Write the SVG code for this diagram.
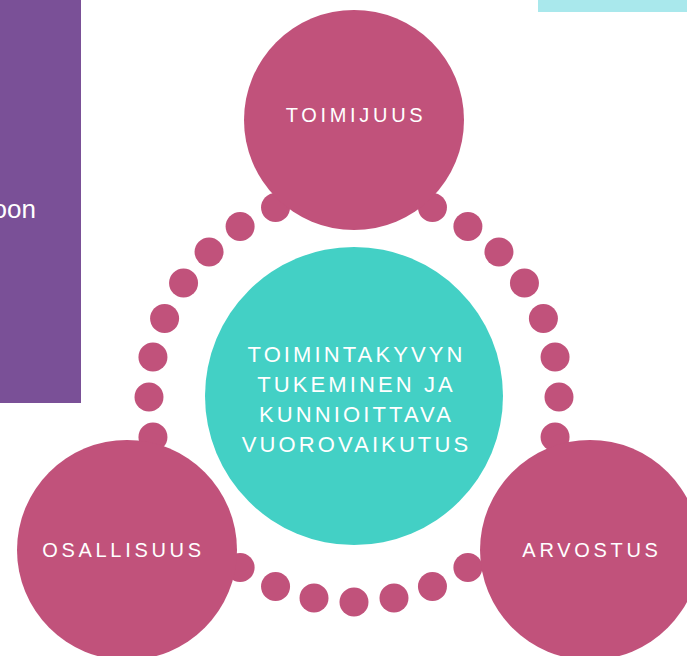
<svg xmlns="http://www.w3.org/2000/svg" width="687" height="656" viewBox="0 0 687 656">
<style>
.mag{fill:#C1527B}
.dot{fill:#C1527B}
.lbl{font-family:"Liberation Sans",Arial,sans-serif;fill:#FFFFFF;text-anchor:middle}
.l20{font-size:20px;letter-spacing:3.7px}
.l22{font-size:22px;letter-spacing:3.1px}
</style>
<rect width="687" height="656" fill="#FFFFFF"/>
<g id="side-panel">
<rect x="0" y="0" width="81" height="403" fill="#7A5097"/>
<text x="36" y="218" font-family="'Liberation Sans',Arial,sans-serif" font-size="26" fill="#FFFFFF" text-anchor="end">oon</text>
</g>
<rect id="top-bar" x="538" y="0" width="149" height="12" fill="#A9E8EC"/>
<g id="connectors">
<circle class="dot" cx="559" cy="397" r="14.5"/>
<circle class="dot" cx="555.06" cy="436.99" r="14.5"/>
<circle class="dot" cx="555.06" cy="357.01" r="14.5"/>
<circle class="dot" cx="543.4" cy="318.55" r="14.5"/>
<circle class="dot" cx="524.45" cy="283.11" r="14.5"/>
<circle class="dot" cx="498.96" cy="252.04" r="14.5"/>
<circle class="dot" cx="467.89" cy="226.55" r="14.5"/>
<circle class="dot" cx="432.45" cy="207.6" r="14.5"/>
<circle class="dot" cx="275.55" cy="207.6" r="14.5"/>
<circle class="dot" cx="240.11" cy="226.55" r="14.5"/>
<circle class="dot" cx="209.04" cy="252.04" r="14.5"/>
<circle class="dot" cx="183.55" cy="283.11" r="14.5"/>
<circle class="dot" cx="164.6" cy="318.55" r="14.5"/>
<circle class="dot" cx="152.94" cy="357.01" r="14.5"/>
<circle class="dot" cx="149" cy="397" r="14.5"/>
<circle class="dot" cx="152.94" cy="436.99" r="14.5"/>
<circle class="dot" cx="240.11" cy="567.45" r="14.5"/>
<circle class="dot" cx="275.55" cy="586.4" r="14.5"/>
<circle class="dot" cx="314.01" cy="598.06" r="14.5"/>
<circle class="dot" cx="354" cy="602" r="14.5"/>
<circle class="dot" cx="393.99" cy="598.06" r="14.5"/>
<circle class="dot" cx="432.45" cy="586.4" r="14.5"/>
<circle class="dot" cx="467.89" cy="567.45" r="14.5"/>
</g>
<g id="toimijuus">
<circle class="mag" cx="354" cy="120" r="110"/>
<text class="lbl l20" x="356" y="122">TOIMIJUUS</text>
</g>
<g id="center">
<circle cx="354" cy="396" r="149" fill="#43D0C5"/>
<text class="lbl l22" x="356.5" y="362">TOIMINTAKYVYN</text>
<text class="lbl l22" x="356.5" y="392">TUKEMINEN JA</text>
<text class="lbl l22" x="356.5" y="422">KUNNIOITTAVA</text>
<text class="lbl l22" x="356.5" y="452">VUOROVAIKUTUS</text>
</g>
<g id="osallisuus">
<circle class="mag" cx="127" cy="550" r="110"/>
<text class="lbl l20" x="123.5" y="557">OSALLISUUS</text>
</g>
<g id="arvostus">
<circle class="mag" cx="590" cy="550" r="110"/>
<text class="lbl l20" x="592" y="557">ARVOSTUS</text>
</g>
</svg>
